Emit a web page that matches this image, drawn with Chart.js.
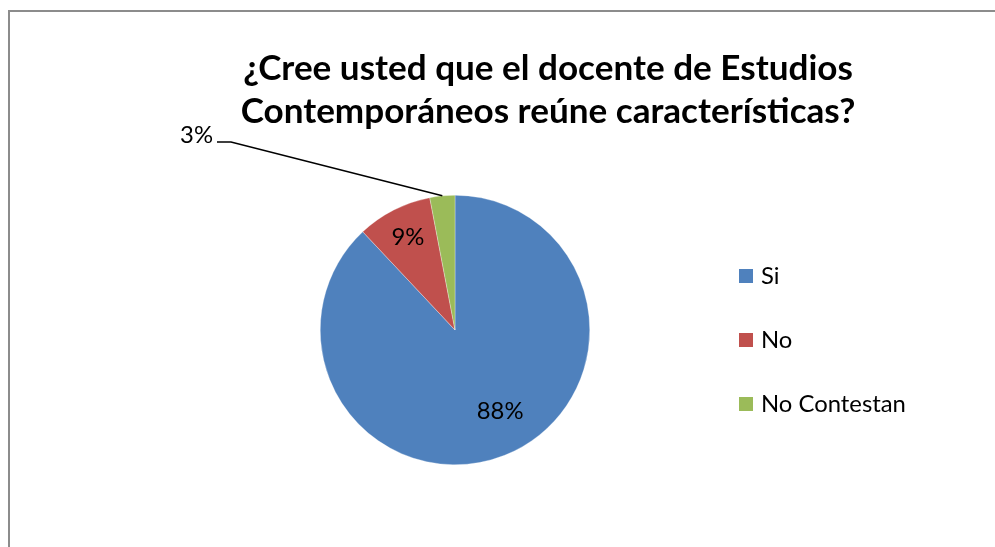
<!DOCTYPE html>
<html>
<head>
<meta charset="utf-8">
<script src="https://cdn.jsdelivr.net/npm/chart.js@4.4.0/dist/chart.umd.min.js"></script>
<style>
html,body{margin:0;padding:0;background:#fff;}
#wrap{position:relative;width:995px;height:547px;}
</style>
</head>
<body>
<div id="wrap"><canvas id="c" width="995" height="547"></canvas></div>
<script>
const categories = ["Si", "No", "No Contestan"];
const values = [88, 9, 3];
const valueLabels = ["88%", "9%", "3%"];
const colors = ["#4F81BD", "#C0504D", "#9BBB59"];
const titleLines = ["¿Cree usted que el docente de Estudios", "Contemporáneos reúne características?"];

const FONT = "Lato, 'Open Sans', 'Liberation Sans', sans-serif";

function fitFont(ctx, text, weight, targetW, base) {
  ctx.font = weight + " " + base + "px " + FONT;
  const w = ctx.measureText(text).width;
  return base * targetW / w;
}

const decor = {
  id: "decor",
  afterDraw(chart) {
    const ctx = chart.ctx;
    ctx.save();
    // frame
    ctx.strokeStyle = "#8c8c8c";
    ctx.lineWidth = 2;
    ctx.strokeRect(9, 11, 1200, 1000);
    // title
    const ts = fitFont(ctx, titleLines[0], "bold", 610, 30);
    ctx.font = "bold " + ts + "px " + FONT;
    ctx.fillStyle = "#000";
    ctx.textAlign = "center";
    ctx.textBaseline = "middle";
    ctx.fillText(titleLines[0], 548, 69);
    ctx.fillText(titleLines[1], 548, 112);

    // data labels
    const meta = chart.getDatasetMeta(0);
    const ls = fitFont(ctx, "No Contestan", "normal", 145, 22);
    ctx.font = "normal " + ls + "px " + FONT;
    ctx.fillStyle = "#000";
    const a0 = meta.data[0], a1 = meta.data[1], a2 = meta.data[2];
    function polar(arc, f, dAng) {
      const mid = (arc.startAngle + arc.endAngle) / 2 + (dAng || 0);
      return [arc.x + Math.cos(mid) * arc.outerRadius * f, arc.y + Math.sin(mid) * arc.outerRadius * f];
    }
    let p = polar(a0, 0.69, -0.13);
    ctx.fillText(valueLabels[0], p[0], p[1]);
    p = polar(a1, 0.77, 0);
    ctx.fillText(valueLabels[1], p[0], p[1]);
    // leader line for 3%
    const e = polar(a2, 1.0, 0);
    ctx.strokeStyle = "#000";
    ctx.lineWidth = 1.5;
    ctx.beginPath();
    ctx.moveTo(217, 142);
    ctx.lineTo(231, 142);
    ctx.lineTo(e[0], e[1]);
    ctx.stroke();
    ctx.textAlign = "right";
    ctx.fillText(valueLabels[2], 213, 135);

    // legend
    ctx.textAlign = "left";
    const ys = [276, 340, 404];
    for (let i = 0; i < categories.length; i++) {
      ctx.fillStyle = colors[i];
      ctx.fillRect(739, ys[i] - 7, 14, 14);
      ctx.fillStyle = "#000";
      ctx.fillText(categories[i], 761, ys[i]);
    }
    ctx.restore();
  }
};

new Chart(document.getElementById("c"), {
  type: "pie",
  data: {
    labels: categories,
    datasets: [{
      data: values,
      backgroundColor: colors,
      borderColor: "rgba(255,255,255,0.6)",
      borderWidth: 0.5
    }]
  },
  options: {
    responsive: false,
    animation: false,
    layout: { padding: { left: 320, right: 405, top: 195, bottom: 82 } },
    plugins: {
      legend: { display: false },
      title: { display: false },
      tooltip: { enabled: false }
    }
  },
  plugins: [decor]
});
</script>
</body>
</html>
